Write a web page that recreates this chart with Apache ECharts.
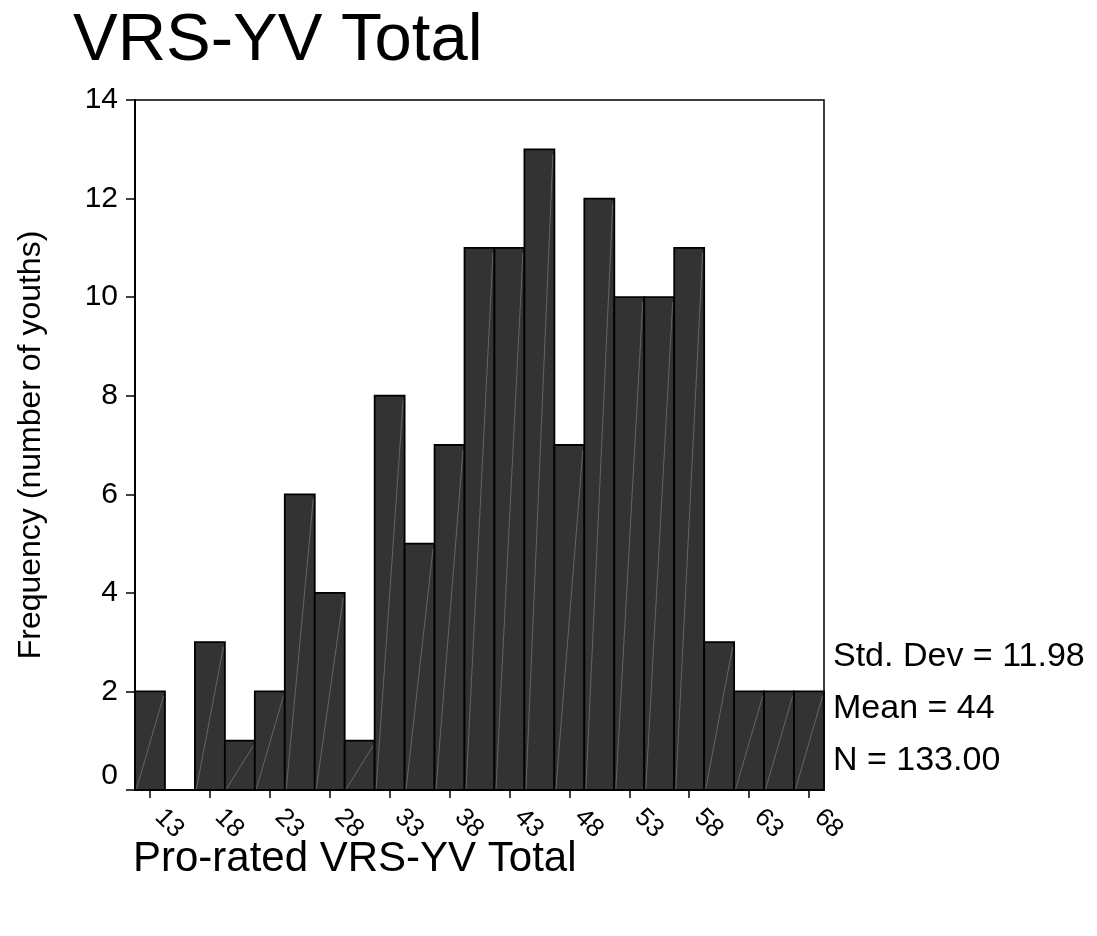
<!DOCTYPE html>
<html>
<head>
<meta charset="utf-8">
<script src="https://cdn.jsdelivr.net/npm/echarts@6/dist/echarts.min.js"></script>
<style>
  html, body { margin: 0; padding: 0; background: #fff; }
  #chart { width: 1097px; height: 936px; }
</style>
</head>
<body>
<div id="chart"></div>
<script>
// Histogram bins: midpoints of 2.5-wide intervals
const binMidpoints = ['13', '15.5', '18', '20.5', '23', '25.5', '28', '30.5', '33', '35.5', '38', '40.5',
                      '43', '45.5', '48', '50.5', '53', '55.5', '58', '60.5', '63', '65.5', '68'];
// Number of youths falling in each bin
const frequencies = [2, 0, 3, 1, 2, 6, 4, 1, 8, 5, 7, 11, 11, 13, 7, 12, 10, 10, 11, 3, 2, 2, 2];
// Labelled ticks along the x axis
const xTickLabels = ['13', '18', '23', '28', '33', '38', '43', '48', '53', '58', '63', '68'];
// Summary statistics printed beside the plot
const statLines = ['Std. Dev = 11.98', 'Mean = 44', 'N = 133.00'];

const FONT = '"Liberation Sans", Arial, Helvetica, sans-serif';

const chart = echarts.init(document.getElementById('chart'), null, { renderer: 'canvas' });

const isLabelled = (idx) => xTickLabels.indexOf(binMidpoints[idx]) !== -1;

function renderBin(params, api) {
  const v = api.value(1);
  if (!v) return null;
  const top = api.coord([api.value(0), v]);
  const base = api.coord([api.value(0), 0]);
  const w = api.size([1, 0])[0];
  const x0 = top[0] - w / 2;
  const x1 = top[0] + w / 2;
  return {
    type: 'group',
    children: [
      {
        type: 'rect',
        shape: { x: x0, y: top[1], width: w, height: base[1] - top[1] },
        style: { fill: '#333333', stroke: '#000', lineWidth: 1.8 }
      },
      {
        type: 'line',
        shape: { x1: x0 + 1.5, y1: base[1] - 1, x2: x1 - 1.5, y2: top[1] + 5 },
        style: { stroke: '#8c8c8c', lineWidth: 0.8, opacity: 0.7 }
      }
    ]
  };
}

const statGraphics = statLines.map((t, i) => ({
  type: 'text',
  left: 833,
  top: 640 + i * 52,
  style: { text: t, font: '34px ' + FONT, fill: '#000' }
}));

chart.setOption({
  backgroundColor: '#fff',
  animation: false,
  title: {
    text: 'VRS-YV Total',
    left: 68,
    top: 3,
    textStyle: { fontFamily: FONT, fontSize: 67, fontWeight: 'normal', color: '#000' }
  },
  grid: {
    left: 135, right: 273, top: 100, bottom: 146,
    show: true, borderColor: '#000', borderWidth: 1.5, backgroundColor: '#fff'
  },
  xAxis: {
    type: 'category',
    data: binMidpoints,
    boundaryGap: true,
    axisLine: { show: true, lineStyle: { color: '#000', width: 2 } },
    axisTick: {
      show: true, alignWithLabel: true, length: 8,
      interval: (idx) => isLabelled(idx),
      lineStyle: { color: '#000', width: 1.5 }
    },
    axisLabel: {
      interval: (idx) => isLabelled(idx),
      rotate: -45,
      margin: 14,
      padding: [0, 0, 0, 13],
      fontFamily: FONT, fontSize: 26, color: '#000'
    },
    splitLine: { show: false }
  },
  yAxis: {
    type: 'value',
    min: 0, max: 14, interval: 2,
    name: 'Frequency (number of youths)',
    nameLocation: 'middle',
    nameGap: 88,
    nameTextStyle: { fontFamily: FONT, fontSize: 32, color: '#000' },
    axisLine: { show: true, lineStyle: { color: '#000', width: 2 } },
    axisTick: { show: true, length: 9, lineStyle: { color: '#000', width: 1.5 } },
    axisLabel: {
      margin: 17, fontFamily: FONT, fontSize: 30, color: '#000',
      // the zero label sits a little above the x axis line
      formatter: (v) => (v === 0 ? '{zero|0}' : String(v)),
      rich: { zero: { fontFamily: FONT, fontSize: 30, color: '#000', padding: [0, 0, 28, 0] } }
    },
    splitLine: { show: false }
  },
  graphic: [
    {
      type: 'text',
      left: 133,
      top: 838,
      style: { text: 'Pro-rated VRS-YV Total', font: '42px ' + FONT, fill: '#000' }
    }
  ].concat(statGraphics),
  series: [{
    type: 'custom',
    renderItem: renderBin,
    encode: { x: 0, y: 1 },
    data: frequencies.map((v, i) => [i, v])
  }]
});
</script>
</body>
</html>
